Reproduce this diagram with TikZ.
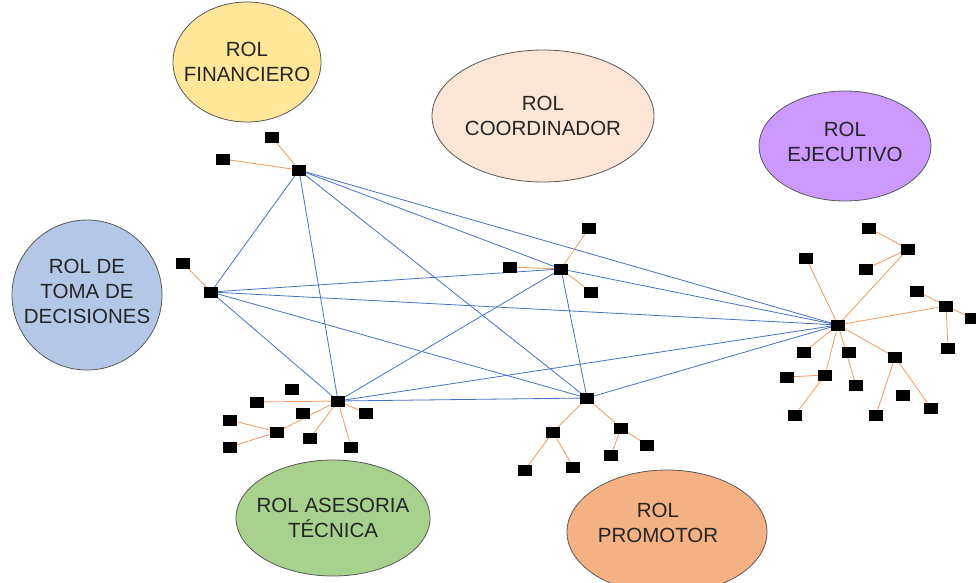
\documentclass[tikz,border=0pt]{standalone}
\usepackage{fontspec}
\setmainfont{Liberation Sans}
\usetikzlibrary{backgrounds}
\definecolor{blueln}{HTML}{4472C4}
\definecolor{orln}{HTML}{ED7D31}
\definecolor{cfin}{HTML}{FFE699}
\definecolor{ccoo}{HTML}{FBE5D6}
\definecolor{ceje}{HTML}{CC99FF}
\definecolor{ctom}{HTML}{B4C7E7}
\definecolor{case}{HTML}{A9D18E}
\definecolor{cpro}{HTML}{F4B183}
\definecolor{edgeg}{HTML}{595959}
\tikzset{
  sq/.style={fill=black, draw=none, minimum width=14pt, minimum height=11pt, inner sep=0pt},
  bl/.style={draw=blueln, line width=0.8pt},
  orl/.style={draw=orln!75!white, line width=0.85pt},
  rolshape/.style={draw=edgeg, line width=0.8pt},
  rol/.style={align=center, inner sep=0pt, font=\fontsize{20.5}{25}\selectfont, text=black!85}
}
\begin{document}
\begin{tikzpicture}[x=1pt,y=-1pt]
\useasboundingbox (0,0) rectangle (976,582);
\clip (0,0) rectangle (976,582);
% role ellipses
\path[rolshape, fill=cfin] (247,62) ellipse [x radius=74, y radius=60];
\path[rolshape, fill=ccoo] (543,116) ellipse [x radius=111, y radius=66];
\path[rolshape, fill=ceje] (845,146) ellipse [x radius=86, y radius=55];
\path[rolshape, fill=ctom] (87,295) ellipse [x radius=75, y radius=75];
\path[rolshape, fill=case] (333,518) ellipse [x radius=97, y radius=58];
\path[rolshape, fill=cpro] (667,532) ellipse [x radius=100, y radius=62];
\node[rol] (fin) at (247,62) {ROL\\FINANCIERO};
\node[rol] (coo) at (543,116) {ROL\\COORDINADOR};
\node[rol] (eje) at (845,142) {ROL\\EJECUTIVO};
\node[rol] (tom) at (87,291) {ROL DE\\TOMA DE\\DECISIONES};
\node[rol] (ase) at (333,518) {ROL ASESORIA\\TÉCNICA};
\node[rol] (pro) at (658,523) {ROL\\PROMOTOR};
% hubs
\node[sq] (h1) at (299,170) {};
\node[sq] (h2) at (211,292) {};
\node[sq] (h3) at (561,269) {};
\node[sq] (h4) at (338,401) {};
\node[sq] (h5) at (587,398) {};
\node[sq] (h6) at (838,325) {};
% leaves H1
\node[sq] (a1) at (272,137) {};
\node[sq] (a2) at (223,159) {};
% H2
\node[sq] (b1) at (183,263) {};
% H3
\node[sq] (c1) at (589,228) {};
\node[sq] (c2) at (510,267) {};
\node[sq] (c3) at (591,292) {};
% H4
\node[sq] (d1) at (292,389) {};
\node[sq] (d2) at (257,402) {};
\node[sq] (d3) at (303,413) {};
\node[sq] (d4) at (277,432) {};
\node[sq] (d5) at (230,420) {};
\node[sq] (d6) at (230,447) {};
\node[sq] (d7) at (310,438) {};
\node[sq] (d8) at (366,413) {};
\node[sq] (d9) at (351,447) {};
% H5
\node[sq] (e1) at (553,432) {};
\node[sq] (e2) at (525,470) {};
\node[sq] (e3) at (573,467) {};
\node[sq] (e4) at (621,428) {};
\node[sq] (e5) at (647,445) {};
\node[sq] (e6) at (611,455) {};
% H6
\node[sq] (f1) at (869,228) {};
\node[sq] (f2) at (908,249) {};
\node[sq] (f3) at (866,269) {};
\node[sq] (f4) at (806,258) {};
\node[sq] (f5) at (917,291) {};
\node[sq] (f6) at (946,306) {};
\node[sq] (f7) at (972,318) {};
\node[sq] (f8) at (948,348) {};
\node[sq] (f9) at (804,352) {};
\node[sq] (f10) at (849,352) {};
\node[sq] (f11) at (856,385) {};
\node[sq] (f12) at (825,375) {};
\node[sq] (f13) at (787,377) {};
\node[sq] (f14) at (795,415) {};
\node[sq] (f15) at (895,357) {};
\node[sq] (f16) at (876,415) {};
\node[sq] (f17) at (931,408) {};
\node[sq] (f18) at (903,395) {};
\begin{pgfonlayer}{background}
% blue complete graph
\foreach \p/\q in {h1/h2,h1/h3,h1/h4,h1/h5,h1/h6,h2/h3,h2/h4,h2/h5,h2/h6,h3/h4,h3/h5,h3/h6,h4/h5,h4/h6,h5/h6}
  \draw[bl] (\p.center) -- (\q.center);
% orange leaves
\foreach \p/\q in {h1/a1,h1/a2,h2/b1,h3/c1,h3/c2,h3/c3,
  h4/d2,h4/d4,d4/d5,d4/d6,h4/d7,h4/d8,h4/d9,
  h5/e1,e1/e2,e1/e3,h5/e4,e4/e5,e4/e6,
  h6/f2,f2/f1,f2/f3,h6/f4,h6/f6,f6/f5,f6/f7,f6/f8,h6/f9,h6/f11,h6/f12,f12/f13,f12/f14,h6/f15,f15/f16,f15/f17}
  \draw[orl] (\p.center) -- (\q.center);
\end{pgfonlayer}
\end{tikzpicture}
\end{document}
